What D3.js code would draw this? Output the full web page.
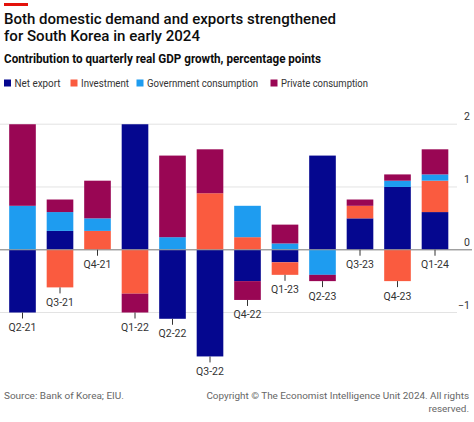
<!DOCTYPE html>
<html><head><meta charset="utf-8">
<script src="https://cdn.jsdelivr.net/npm/d3@7"></script>
<style>
html,body{margin:0;padding:0;background:#fff;}
svg{display:block;font-family:Roboto,"Noto Sans",sans-serif;}
</style></head>
<body>
<script>
const categories = ["Q2-21","Q3-21","Q4-21","Q1-22","Q2-22","Q3-22","Q4-22","Q1-23","Q2-23","Q3-23","Q4-23","Q1-24"];
const netExport  = [-1.0, 0.3, 0.0, 2.1, -1.1, -1.7, -0.5, -0.2, 1.5, 0.5, 1.0, 0.6];
const investment = [0.0, -0.6, 0.3, -0.7, 0.0, 0.9, 0.2, -0.2, 0.0, 0.2, -0.5, 0.5];
const government = [0.7, 0.3, 0.2, 0.0, 0.2, 0.0, 0.5, 0.1, -0.4, 0.0, 0.1, 0.1];
const privateCons = [1.5, 0.2, 0.6, -0.3, 1.3, 0.7, -0.3, 0.3, -0.1, 0.1, 0.1, 0.4];
const seriesNames = ["Net export","Investment","Government consumption","Private consumption"];
const seriesColors = ["#05078f","#fa5b3f","#1e9cf0","#990654"];
const yTicks = [-1, 0, 1, 2];

const W = 474, H = 422;
const svg = d3.select("body").append("svg").attr("width", W).attr("height", H);

function fit(sel, w){ return sel.attr("textLength", w).attr("lengthAdjust","spacingAndGlyphs"); }
function fitFont(sel, w){
  const fs = parseFloat(sel.style("font-size"));
  const len = sel.node().getComputedTextLength();
  sel.style("font-size", (fs * w / len).toFixed(2) + "px");
  return sel;
}

// red accent bar
svg.append("rect").attr("x",4).attr("y",3).attr("width",24).attr("height",3).attr("fill","#e3120b");

// title
const title = svg.append("text").attr("fill","#0d0d0d")
  .style("font-size","15.5px").style("font-weight",500);
fit(title.append("tspan").attr("x",4).attr("y",24).text("Both domestic demand and exports strengthened"), 332);
fit(title.append("tspan").attr("x",4).attr("y",41).text("for South Korea in early 2024"), 196);

fit(svg.append("text").attr("x",4).attr("y",63).attr("fill","#0d0d0d")
  .style("font-size","12.5px").style("font-weight",700)
  .text("Contribution to quarterly real GDP growth, percentage points"), 317);

// legend
const legendX = [4, 70.5, 136.5, 270.5];
const legendW = [46, 48, 111, 87];
seriesNames.forEach((n,i)=>{
  svg.append("rect").attr("x",legendX[i]).attr("y",79.5).attr("width",7).attr("height",7).attr("fill",seriesColors[i]);
  fit(svg.append("text").attr("x",legendX[i]+10.5).attr("y",87).attr("fill","#333")
    .style("font-size","10.5px").text(n), legendW[i]);
});

// data table
const rows = categories.map((c,i)=>({cat:c, "Net export":netExport[i], "Investment":investment[i],
  "Government consumption":government[i], "Private consumption":privateCons[i]}));
const stack = d3.stack().keys(seriesNames).offset(d3.stackOffsetDiverging)(rows);

const x = d3.scaleBand().domain(categories).range([3.75, 453.75]).paddingInner(0.29).paddingOuter(0.145);
const y = d3.scaleLinear().domain([-1, 2]).range([312.5, 124.2]);

// gridlines
const grid = svg.append("g");
yTicks.forEach(t=>{
  grid.append("line").attr("x1",0).attr("x2", t===0 ? 472 : 457)
    .attr("y1",y(t)).attr("y2",y(t))
    .attr("stroke", t===0 ? "#9a9a9a" : "#e3e3e3").attr("stroke-width", t===0 ? 1.2 : 1);
  svg.append("text").attr("x",470).attr("y",y(t)-4).attr("text-anchor","end")
    .attr("fill","#333").style("font-size","10.5px").text(d3.format("")(t).replace("-","−"));
});

svg.append("clipPath").attr("id","clip").append("rect")
  .attr("x",0).attr("y",y(2)).attr("width",W).attr("height",H);

const bars = svg.append("g").attr("clip-path","url(#clip)");
stack.forEach((s,si)=>{
  bars.append("g").attr("fill",seriesColors[si]).selectAll("rect").data(s).join("rect")
    .attr("x",d=>x(d.data.cat)).attr("width",x.bandwidth())
    .attr("y",d=>y(Math.max(d[0],d[1])))
    .attr("height",d=>Math.abs(y(d[0])-y(d[1])));
});
// redraw zero line on top
svg.append("line").attr("x1",0).attr("x2",472).attr("y1",y(0)).attr("y2",y(0))
  .attr("stroke","#9a9a9a").attr("stroke-width",1.2);

// category labels under each bar's lowest point
categories.forEach((c,i)=>{
  let low = 0;
  stack.forEach(s=>{ low = Math.min(low, s[i][0], s[i][1]); });
  const by = y(low);
  const cx = x(c) + x.bandwidth()/2;
  svg.append("line").attr("x1",cx).attr("x2",cx).attr("y1",by).attr("y2",by+6)
    .attr("stroke","#333").attr("stroke-width",1);
  svg.append("text").attr("x",cx).attr("y",by+18.5).attr("text-anchor","middle")
    .attr("fill","#333").style("font-size","10.5px").text(c);
});

// footer
fitFont(svg.append("text").attr("x",4).attr("y",398.5).attr("fill","#666").style("font-size","10.5px")
  .text("Source: Bank of Korea; EIU."), 120);
const cpLine = fitFont(svg.append("text").attr("x",469).attr("y",398.5).attr("text-anchor","end")
  .attr("fill","#666").style("font-size","10.5px")
  .text("Copyright © The Economist Intelligence Unit 2024. All rights"), 263);
svg.append("text").attr("x",469).attr("y",412).attr("text-anchor","end").attr("fill","#666")
  .style("font-size", cpLine.style("font-size")).text("reserved.");
</script>
</body></html>
